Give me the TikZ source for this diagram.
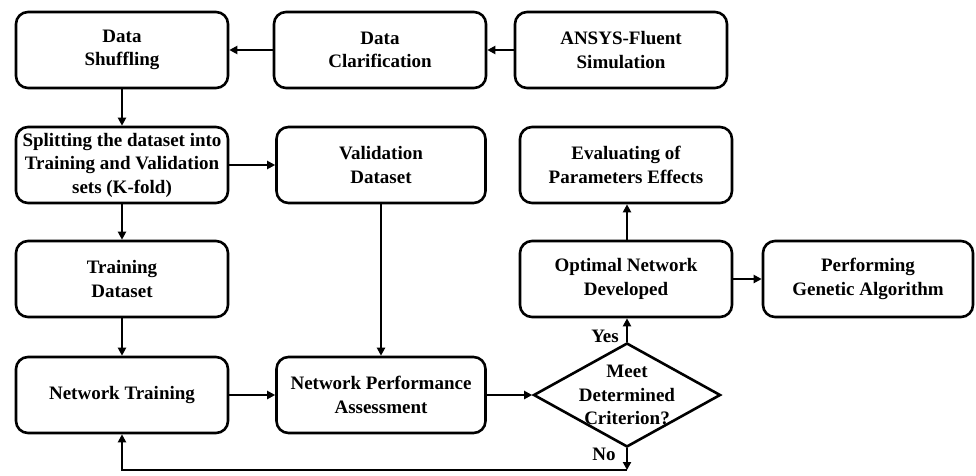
\documentclass[tikz,border=0pt]{standalone}
\usepackage{fontspec}
\setmainfont{Liberation Serif}
\usetikzlibrary{shapes.geometric,arrows.meta}
\begin{document}
\begin{tikzpicture}[x=1pt,y=-1pt,
  txt/.style={font=\fontsize{19}{23.5}\selectfont\bfseries, align=center},
  box/.style={txt, draw, line width=2.6pt, rounded corners=12pt,
    minimum width=212pt, minimum height=76pt, inner sep=1pt},
  arr/.style={line width=2.6pt, -{Triangle[length=8pt,width=8pt]}},
  dia/.style={draw, diamond, line width=2.6pt, minimum width=187pt,
    minimum height=104pt, inner sep=0pt}]
\useasboundingbox (0,0) rectangle (976,475);
\node[box] (shuf) at (122,50) {Data\\Shuffling};
\node[box] (clar) at (380,50) {Data\\Clarification};
\node[box] (ansys) at (621,50) {ANSYS-Fluent\\Simulation};
\node[box] (split) at (122,165) {Splitting the dataset into\\Training and Validation\\sets (K-fold)};
\node[box, minimum width=209pt] (val) at (381,165) {Validation\\Dataset};
\node[box] (eval) at (626,165) {Evaluating of\\Parameters Effects};
\node[box] (train) at (122,279) {Training\\Dataset};
\node[box] (opt) at (626,279) {Optimal Network\\Developed};
\node[box, minimum width=210pt] (ga) at (868,279) {Performing\\Genetic Algorithm};
\node[box] (nt) at (122,395) {Network Training};
\node[box, minimum width=209pt] (npa) at (381,395) {Network Performance\\Assessment};
\node[dia] (dec) at (627,395) {};
\node[txt] (dectext) at (dec.center) {Meet\\Determined\\Criterion?};
\node[txt] (yes) at (605,336) {Yes};
\node[txt] (no) at (604,454) {No};
\coordinate (c1) at (627,470);
\draw[arr] (clar) -- (shuf);
\draw[arr] (ansys) -- (clar);
\draw[arr] (shuf) -- (split);
\draw[arr] (split) -- (val);
\draw[arr] (split) -- (train);
\draw[arr] (train) -- (nt);
\draw[arr] (nt) -- (npa);
\draw[arr] (val) -- (npa);
\draw[arr] (npa.east) -- (dec.west);
\draw[arr] (dec.north) -- (opt.south -| dec.north);
\draw[arr] (opt.north -| dec.north) -- (eval.south -| dec.north);
\draw[arr] (opt) -- (ga);
\draw[arr] (dec.south) -- (c1);
\draw[arr] (c1) -| (nt.south);
\end{tikzpicture}
\end{document}
